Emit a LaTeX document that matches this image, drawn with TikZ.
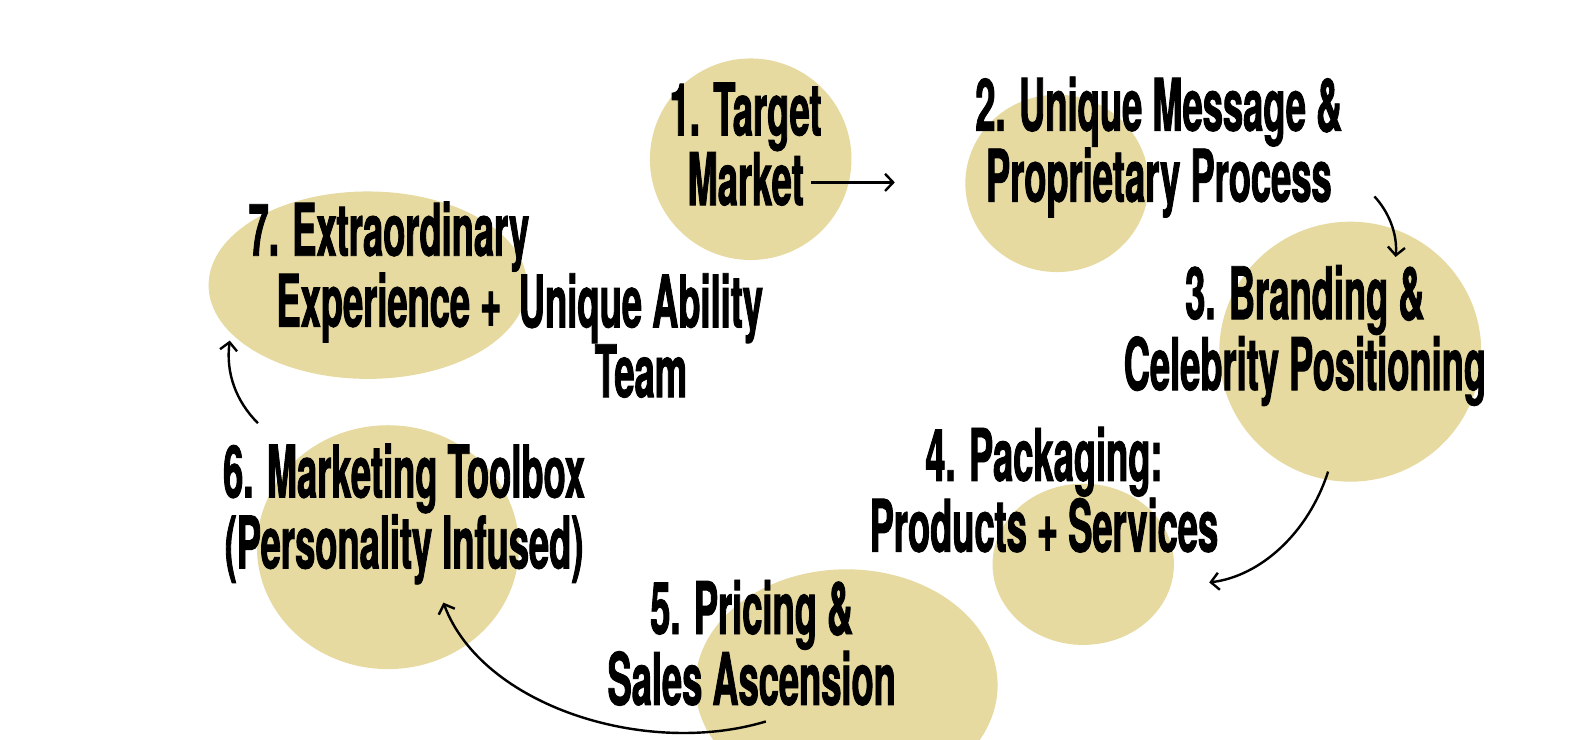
\documentclass[tikz,border=0pt]{standalone}
\usepackage{fontspec}
\newfontfamily\cond{TeX Gyre Heros Bold}[FakeStretch=0.5,FakeBold=1.2]
\usetikzlibrary{arrows.meta}
\definecolor{blob}{RGB}{230,218,160}
\begin{document}
\begin{tikzpicture}[x=1pt,y=-1pt,
  lbl/.style={align=center,inner sep=0pt,font=\cond\fontsize{72}{63}\selectfont},
  flow/.style={line width=2.4pt,-{Straight Barb[length=8pt,width=17pt,line width=2.4pt]}}]
\useasboundingbox[fill=white] (0,0) rectangle (1568,734);
% blobs
\fill[blob] (745,158) ellipse [x radius=100, y radius=100];
\fill[blob] (1049,182) ellipse [x radius=91, y radius=88];
\fill[blob] (1340,349) ellipse [x radius=130, y radius=129];
\fill[blob] (1075,560) ellipse [x radius=90, y radius=80];
\fill[blob] (840,680) ellipse [x radius=150, y radius=115];
\fill[blob] (385,543) ellipse [x radius=130, y radius=121];
\fill[blob] (365,283) ellipse [x radius=158, y radius=93];
% labels
\node[lbl] (t1) at (740,143) {1. Target\\Market};
\node[lbl] (t2) at (1150,146) {2. Unique Message \&\\Proprietary Process};
\node[lbl] (t3) at (1295,333) {3. Branding \&\\Celebrity Positioning};
\node[lbl] (t4) at (1036,486) {4. Packaging:\\Products + Services};
\node[lbl] (t5) at (746,638) {5. Pricing \&\\Sales Ascension};
\node[lbl] (t6) at (401,510) {6. Marketing Toolbox\\(Personality Infused)};
\node[lbl] (t7) at (386,270) {7. Extraordinary\\Experience +};
\node[lbl] (t7b) at (636,333) {Unique Ability\\Team};
% connector ends
\coordinate (a1s) at (805,181); \coordinate (a1e) at (888,181);
\coordinate (a2s) at (1364,195); \coordinate (a2e) at (1385,255);
\coordinate (a3s) at (1318,468); \coordinate (a3e) at (1200,578);
\coordinate (a4s) at (760,716); \coordinate (a4e) at (440,598);
\coordinate (a5s) at (256,420); \coordinate (a5e) at (228,338);
\draw[flow] (a1s) -- (a1e);
\draw[flow] (a2s) .. controls (1378,210) and (1387,232) .. (a2e);
\draw[flow] (a3s) .. controls (1298,530) and (1250,572) .. (a3e);
\draw[flow] (a4s) .. controls (640,752) and (478,700) .. (a4e);
\draw[flow] (a5s) .. controls (234,398) and (224,370) .. (a5e);
\end{tikzpicture}
\end{document}
